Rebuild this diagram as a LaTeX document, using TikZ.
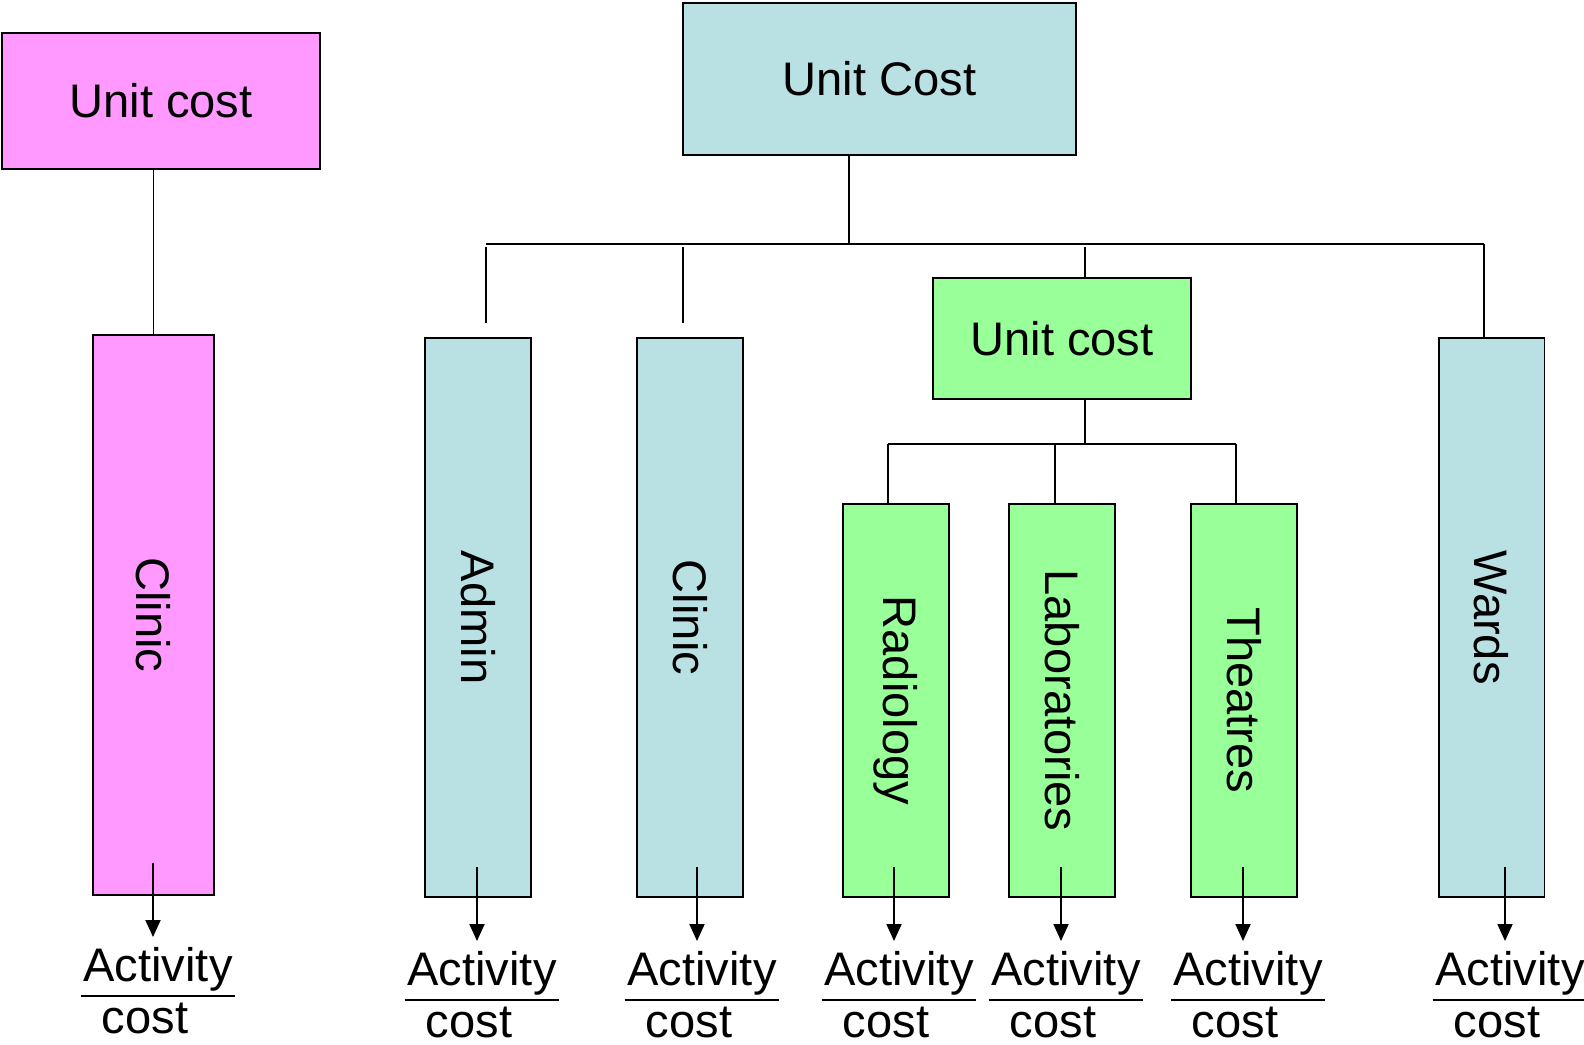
\documentclass[tikz,border=0pt]{standalone}
\usepackage{fontspec}
\setmainfont{Liberation Sans}
\usepackage{xcolor}
\usepackage{tikz}
\usetikzlibrary{positioning, arrows.meta}
\definecolor{pinkbox}{RGB}{255,153,255}
\definecolor{tealbox}{RGB}{185,224,227}
\definecolor{greenbox}{RGB}{153,255,153}

\begin{document}
\begin{tikzpicture}[x=0.02cm, y=-0.02cm, line width=1.1pt, >={Triangle[length=0.34cm, width=0.3cm]},
    box/.style={draw, inner sep=0pt},
    txt/.style={font=\fontsize{26.8}{32}\selectfont, inner sep=0pt},
    col/.style={box, fill=tealbox, minimum width=2.12cm, minimum height=11.18cm},
    sub/.style={box, fill=greenbox, minimum width=2.12cm, minimum height=7.86cm}]
    \useasboundingbox (0,0) rectangle (1584,1044);

    % pink tree
    \node[box, txt, fill=pinkbox, minimum width=6.36cm, minimum height=2.72cm] (pu) at (161,101) {Unit cost};
    \node[box, fill=pinkbox, minimum width=2.42cm, minimum height=11.2cm] (pc) at (153.5,615) {};
    \draw (pc.north) -- (pc.north |- pu.south);

    % teal tree
    \node[box, txt, fill=tealbox, minimum width=7.86cm, minimum height=3.04cm] (tu) at (879.5,79) {Unit Cost};
    \node[col] (ad) at (478,617.5) {};
    \node[col] (cl) at (690,617.5) {};
    \node[col] (wa) at (1491.5,617.5) {};
    \node[box, txt, fill=greenbox, minimum width=5.16cm, minimum height=2.42cm] (gu) at (1062,338.5) {Unit cost};
    \node[sub] (ra) at (896,700.5) {};
    \node[sub] (la) at (1062,700.5) {};
    \node[sub] (th) at (1244,700.5) {};

    \foreach \n/\t in {pc/Clinic, ad/Admin, cl/Clinic, ra/Radiology, la/Laboratories, th/Theatres, wa/Wards}
        \node[txt, rotate=-90] (\n-t) at (\n) {\t};

    \coordinate (bus) at (849,244);
    \coordinate (busL) at (486,244);
    \coordinate (busR) at (1484,244);
    \coordinate (adA) at (486,247);
    \coordinate (adB) at (486,323);
    \coordinate (clA) at (683,247);
    \coordinate (clB) at (683,323);
    \coordinate (guA) at (1085,247);
    \draw (tu.south -| bus) -- (bus);
    \draw (busL) -- (busR);
    \draw (adA) -- (adB);
    \draw (clA) -- (clB);
    \draw (guA) -- (guA |- gu.north);
    \draw (busR) -- (busR |- wa.north);

    % green sub tree
    \coordinate (gbus) at (1085,444);
    \coordinate (gL) at (888,444);
    \coordinate (gM) at (1055,444);
    \coordinate (gR) at (1236,444);
    \draw (gu.south -| gbus) -- (gbus);
    \draw (gL) -- (gR);
    \draw (gL) -- (gL |- ra.north);
    \draw (gM) -- (gM |- la.north);
    \draw (gR) -- (gR |- th.north);

    % activity cost under each column
    \foreach \n/\x/\dy in {pc/153/-4, ad/477/0, cl/697/0, ra/894/0, la/1061/0, th/1243/0, wa/1505/0} {
        \coordinate (\n-s) at (\x,867+\dy);
        \coordinate (\n-e) at (\x,941+\dy);
        \draw[->] (\n-s) -- (\n-e);
        \node[txt, anchor=base] (\n-act) at (\x+5,985+\dy) {Activity};
        \coordinate (\n-bar) at (\x,1000+\dy);
        \draw ([xshift=-1pt]\n-act.west |- \n-bar) -- ([xshift=1pt]\n-act.east |- \n-bar);
        \node[txt, anchor=base] (\n-cost) at (\x-8,1037+\dy) {cost};
    }
\end{tikzpicture}
\end{document}
